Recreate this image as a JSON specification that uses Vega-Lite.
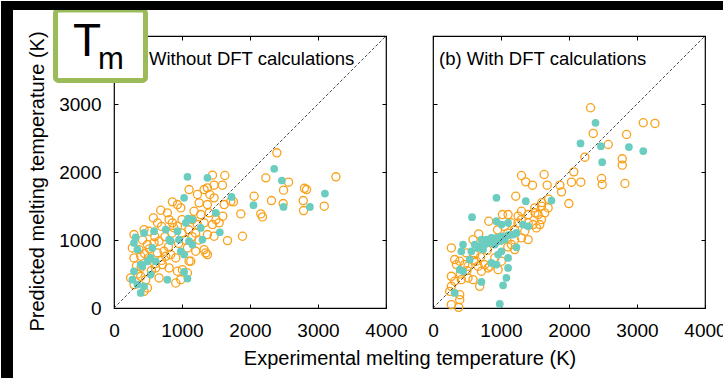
{
  "$schema": "https://vega.github.io/schema/vega-lite/v6.json",
  "background": "white",
  "padding": 0,
  "bounds": "flush",
  "spacing": 47,
  "config": {
    "font": "Liberation Sans",
    "view": {"stroke": "black", "strokeWidth": 1.2},
    "axis": {"grid": false, "domain": false, "tickSize": -4, "tickColor": "black", "tickWidth": 1, "format": "d", "labelFont": "Liberation Sans", "labelFontSize": 19, "labelColor": "black", "labelPadding": 17, "labelFlush": false, "labelOverlap": false, "titleFont": "Liberation Sans", "titleFontSize": 20, "titleFontWeight": "normal", "titleColor": "black"}
  },
  "datasets": {
    "a": [
      {"exp": 2395, "pred": 2282, "set": "training"}, {"exp": 3264, "pred": 1929, "set": "training"}, {"exp": 2233, "pred": 1914, "set": "training"}, {"exp": 2567, "pred": 1850, "set": "training"}, {"exp": 2493, "pred": 1733, "set": "training"}, {"exp": 2061, "pred": 1644, "set": "training"}, {"exp": 2316, "pred": 1580, "set": "training"}, {"exp": 2488, "pred": 1536, "set": "training"}, {"exp": 2832, "pred": 1742, "set": "training"}, {"exp": 2800, "pred": 1760, "set": "training"}, {"exp": 2783, "pred": 1580, "set": "training"}, {"exp": 2788, "pred": 1433, "set": "training"}, {"exp": 3092, "pred": 1497, "set": "training"}, {"exp": 1865, "pred": 1384, "set": "training"}, {"exp": 2159, "pred": 1384, "set": "training"}, {"exp": 2184, "pred": 1340, "set": "training"}, {"exp": 1889, "pred": 1055, "set": "training"}, {"exp": 1669, "pred": 991, "set": "training"}, {"exp": 1757, "pred": 1561, "set": "training"}, {"exp": 1448, "pred": 1954, "set": "training"}, {"exp": 1630, "pred": 1948, "set": "training"}, {"exp": 1595, "pred": 1806, "set": "training"}, {"exp": 1374, "pred": 1767, "set": "training"}, {"exp": 1472, "pred": 1806, "set": "training"}, {"exp": 1104, "pred": 1742, "set": "training"}, {"exp": 1227, "pred": 1669, "set": "training"}, {"exp": 1325, "pred": 1742, "set": "training"}, {"exp": 1409, "pred": 1669, "set": "training"}, {"exp": 1472, "pred": 1620, "set": "training"}, {"exp": 1252, "pred": 1546, "set": "training"}, {"exp": 1374, "pred": 1521, "set": "training"}, {"exp": 1620, "pred": 1521, "set": "training"}, {"exp": 1718, "pred": 1570, "set": "training"}, {"exp": 859, "pred": 1561, "set": "training"}, {"exp": 933, "pred": 1521, "set": "training"}, {"exp": 982, "pred": 1472, "set": "training"}, {"exp": 687, "pred": 1438, "set": "training"}, {"exp": 785, "pred": 1399, "set": "training"}, {"exp": 579, "pred": 1325, "set": "training"}, {"exp": 810, "pred": 1300, "set": "training"}, {"exp": 859, "pred": 1252, "set": "training"}, {"exp": 933, "pred": 1202, "set": "training"}, {"exp": 1178, "pred": 1423, "set": "training"}, {"exp": 1276, "pred": 1374, "set": "training"}, {"exp": 1399, "pred": 1399, "set": "training"}, {"exp": 1227, "pred": 1227, "set": "training"}, {"exp": 1325, "pred": 1252, "set": "training"}, {"exp": 1448, "pred": 1227, "set": "training"}, {"exp": 1546, "pred": 1252, "set": "training"}, {"exp": 1374, "pred": 1080, "set": "training"}, {"exp": 1472, "pred": 1055, "set": "training"}, {"exp": 1325, "pred": 859, "set": "training"}, {"exp": 1350, "pred": 810, "set": "training"}, {"exp": 1374, "pred": 785, "set": "training"}, {"exp": 294, "pred": 1080, "set": "training"}, {"exp": 442, "pred": 1153, "set": "training"}, {"exp": 515, "pred": 1129, "set": "training"}, {"exp": 270, "pred": 883, "set": "training"}, {"exp": 368, "pred": 859, "set": "training"}, {"exp": 491, "pred": 933, "set": "training"}, {"exp": 589, "pred": 957, "set": "training"}, {"exp": 663, "pred": 982, "set": "training"}, {"exp": 638, "pred": 810, "set": "training"}, {"exp": 736, "pred": 834, "set": "training"}, {"exp": 834, "pred": 785, "set": "training"}, {"exp": 908, "pred": 736, "set": "training"}, {"exp": 1080, "pred": 883, "set": "training"}, {"exp": 1202, "pred": 834, "set": "training"}, {"exp": 1129, "pred": 687, "set": "training"}, {"exp": 294, "pred": 736, "set": "training"}, {"exp": 393, "pred": 761, "set": "training"}, {"exp": 515, "pred": 736, "set": "training"}, {"exp": 613, "pred": 589, "set": "training"}, {"exp": 712, "pred": 638, "set": "training"}, {"exp": 810, "pred": 589, "set": "training"}, {"exp": 933, "pred": 540, "set": "training"}, {"exp": 1006, "pred": 564, "set": "training"}, {"exp": 1104, "pred": 687, "set": "training"}, {"exp": 393, "pred": 466, "set": "training"}, {"exp": 466, "pred": 417, "set": "training"}, {"exp": 663, "pred": 442, "set": "training"}, {"exp": 908, "pred": 368, "set": "training"}, {"exp": 982, "pred": 417, "set": "training"}, {"exp": 491, "pred": 295, "set": "training"}, {"exp": 442, "pred": 245, "set": "training"}, {"exp": 294, "pred": 344, "set": "training"}, {"exp": 245, "pred": 442, "set": "training"}, {"exp": 1080, "pred": 515, "set": "training"}, {"exp": 1000, "pred": 1100, "set": "training"}, {"exp": 1100, "pred": 1150, "set": "training"}, {"exp": 1050, "pred": 1000, "set": "training"}, {"exp": 1150, "pred": 1050, "set": "training"}, {"exp": 950, "pred": 950, "set": "training"}, {"exp": 700, "pred": 700, "set": "training"}, {"exp": 600, "pred": 650, "set": "training"}, {"exp": 750, "pred": 1050, "set": "training"}, {"exp": 850, "pred": 1100, "set": "training"}, {"exp": 1200, "pred": 1100, "set": "training"}, {"exp": 1250, "pred": 1000, "set": "training"}, {"exp": 400, "pred": 600, "set": "training"}, {"exp": 350, "pred": 500, "set": "training"}, {"exp": 550, "pred": 550, "set": "training"}, {"exp": 450, "pred": 800, "set": "training"}, {"exp": 800, "pred": 900, "set": "training"}, {"exp": 1500, "pred": 1300, "set": "training"}, {"exp": 1600, "pred": 1350, "set": "training"}, {"exp": 1150, "pred": 1300, "set": "training"}, {"exp": 1000, "pred": 1300, "set": "training"}, {"exp": 700, "pred": 1200, "set": "training"}, {"exp": 600, "pred": 1050, "set": "training"}, {"exp": 330, "pred": 620, "set": "training"}, {"exp": 520, "pred": 870, "set": "training"}, {"exp": 760, "pred": 760, "set": "training"}, {"exp": 880, "pred": 1180, "set": "training"}, {"exp": 420, "pred": 1000, "set": "training"}, {"exp": 640, "pred": 1250, "set": "training"},
      {"exp": 1080, "pred": 1929, "set": "test"}, {"exp": 1374, "pred": 1914, "set": "test"}, {"exp": 2356, "pred": 2047, "set": "test"}, {"exp": 2469, "pred": 1875, "set": "test"}, {"exp": 3102, "pred": 1683, "set": "test"}, {"exp": 2881, "pred": 1487, "set": "test"}, {"exp": 2493, "pred": 1487, "set": "test"}, {"exp": 2051, "pred": 1512, "set": "test"}, {"exp": 1728, "pred": 1634, "set": "test"}, {"exp": 1031, "pred": 1620, "set": "test"}, {"exp": 1556, "pred": 1114, "set": "test"}, {"exp": 1497, "pred": 1399, "set": "test"}, {"exp": 1090, "pred": 1315, "set": "test"}, {"exp": 1153, "pred": 1300, "set": "test"}, {"exp": 1055, "pred": 1252, "set": "test"}, {"exp": 1276, "pred": 1178, "set": "test"}, {"exp": 1300, "pred": 1006, "set": "test"}, {"exp": 1153, "pred": 933, "set": "test"}, {"exp": 1104, "pred": 982, "set": "test"}, {"exp": 933, "pred": 1129, "set": "test"}, {"exp": 957, "pred": 1006, "set": "test"}, {"exp": 761, "pred": 1153, "set": "test"}, {"exp": 589, "pred": 1129, "set": "test"}, {"exp": 442, "pred": 1104, "set": "test"}, {"exp": 319, "pred": 1040, "set": "test"}, {"exp": 294, "pred": 957, "set": "test"}, {"exp": 344, "pred": 859, "set": "test"}, {"exp": 810, "pred": 1006, "set": "test"}, {"exp": 834, "pred": 982, "set": "test"}, {"exp": 564, "pred": 883, "set": "test"}, {"exp": 540, "pred": 736, "set": "test"}, {"exp": 613, "pred": 687, "set": "test"}, {"exp": 393, "pred": 638, "set": "test"}, {"exp": 417, "pred": 614, "set": "test"}, {"exp": 491, "pred": 687, "set": "test"}, {"exp": 982, "pred": 834, "set": "test"}, {"exp": 1031, "pred": 785, "set": "test"}, {"exp": 785, "pred": 417, "set": "test"}, {"exp": 1031, "pred": 530, "set": "test"}, {"exp": 1080, "pred": 432, "set": "test"}, {"exp": 294, "pred": 540, "set": "test"}, {"exp": 270, "pred": 417, "set": "test"}, {"exp": 344, "pred": 344, "set": "test"}, {"exp": 442, "pred": 319, "set": "test"}, {"exp": 393, "pred": 221, "set": "test"}, {"exp": 540, "pred": 491, "set": "test"}
    ],
    "b": [
      {"exp": 2317, "pred": 2945, "set": "training"}, {"exp": 3092, "pred": 2724, "set": "training"}, {"exp": 3264, "pred": 2714, "set": "training"}, {"exp": 2356, "pred": 2567, "set": "training"}, {"exp": 2847, "pred": 2552, "set": "training"}, {"exp": 2577, "pred": 2405, "set": "training"}, {"exp": 2233, "pred": 2218, "set": "training"}, {"exp": 2783, "pred": 2194, "set": "training"}, {"exp": 2783, "pred": 2101, "set": "training"}, {"exp": 2822, "pred": 1831, "set": "training"}, {"exp": 2479, "pred": 1904, "set": "training"}, {"exp": 2488, "pred": 1816, "set": "training"}, {"exp": 2071, "pred": 2002, "set": "training"}, {"exp": 2037, "pred": 1850, "set": "training"}, {"exp": 2174, "pred": 1850, "set": "training"}, {"exp": 1890, "pred": 1708, "set": "training"}, {"exp": 1998, "pred": 1536, "set": "training"}, {"exp": 1865, "pred": 1806, "set": "training"}, {"exp": 1634, "pred": 1963, "set": "training"}, {"exp": 1679, "pred": 1806, "set": "training"}, {"exp": 1301, "pred": 1948, "set": "training"}, {"exp": 1364, "pred": 1855, "set": "training"}, {"exp": 1463, "pred": 1806, "set": "training"}, {"exp": 1217, "pred": 1644, "set": "training"}, {"exp": 1104, "pred": 1374, "set": "training"}, {"exp": 1021, "pred": 1374, "set": "training"}, {"exp": 1399, "pred": 1374, "set": "training"}, {"exp": 1497, "pred": 1472, "set": "training"}, {"exp": 1595, "pred": 1497, "set": "training"}, {"exp": 1693, "pred": 1472, "set": "training"}, {"exp": 1546, "pred": 1374, "set": "training"}, {"exp": 1644, "pred": 1399, "set": "training"}, {"exp": 1399, "pred": 1006, "set": "training"}, {"exp": 1570, "pred": 1227, "set": "training"}, {"exp": 1521, "pred": 1178, "set": "training"}, {"exp": 1252, "pred": 1350, "set": "training"}, {"exp": 1301, "pred": 1423, "set": "training"}, {"exp": 820, "pred": 1276, "set": "training"}, {"exp": 672, "pred": 1090, "set": "training"}, {"exp": 589, "pred": 1006, "set": "training"}, {"exp": 270, "pred": 883, "set": "training"}, {"exp": 319, "pred": 712, "set": "training"}, {"exp": 393, "pred": 687, "set": "training"}, {"exp": 344, "pred": 638, "set": "training"}, {"exp": 466, "pred": 638, "set": "training"}, {"exp": 515, "pred": 614, "set": "training"}, {"exp": 638, "pred": 687, "set": "training"}, {"exp": 663, "pred": 614, "set": "training"}, {"exp": 761, "pred": 638, "set": "training"}, {"exp": 834, "pred": 614, "set": "training"}, {"exp": 908, "pred": 736, "set": "training"}, {"exp": 1006, "pred": 687, "set": "training"}, {"exp": 1202, "pred": 859, "set": "training"}, {"exp": 1153, "pred": 933, "set": "training"}, {"exp": 1301, "pred": 1031, "set": "training"}, {"exp": 1350, "pred": 1129, "set": "training"}, {"exp": 1472, "pred": 1227, "set": "training"}, {"exp": 1595, "pred": 1300, "set": "training"}, {"exp": 270, "pred": 466, "set": "training"}, {"exp": 319, "pred": 393, "set": "training"}, {"exp": 417, "pred": 417, "set": "training"}, {"exp": 515, "pred": 442, "set": "training"}, {"exp": 589, "pred": 417, "set": "training"}, {"exp": 687, "pred": 319, "set": "training"}, {"exp": 712, "pred": 540, "set": "training"}, {"exp": 810, "pred": 589, "set": "training"}, {"exp": 270, "pred": 319, "set": "training"}, {"exp": 245, "pred": 245, "set": "training"}, {"exp": 393, "pred": 196, "set": "training"}, {"exp": 270, "pred": 49, "set": "training"}, {"exp": 378, "pred": 10, "set": "training"}, {"exp": 393, "pred": 123, "set": "training"}, {"exp": 957, "pred": 564, "set": "training"}, {"exp": 613, "pred": 785, "set": "training"}, {"exp": 491, "pred": 810, "set": "training"}, {"exp": 1000, "pred": 1000, "set": "training"}, {"exp": 1100, "pred": 1100, "set": "training"}, {"exp": 1200, "pred": 1150, "set": "training"}, {"exp": 1250, "pred": 1250, "set": "training"}, {"exp": 900, "pred": 950, "set": "training"}, {"exp": 800, "pred": 850, "set": "training"}, {"exp": 700, "pred": 750, "set": "training"}, {"exp": 1050, "pred": 1200, "set": "training"}, {"exp": 1150, "pred": 1250, "set": "training"}, {"exp": 950, "pred": 1150, "set": "training"}, {"exp": 600, "pred": 700, "set": "training"}, {"exp": 500, "pred": 550, "set": "training"}, {"exp": 400, "pred": 500, "set": "training"}, {"exp": 1300, "pred": 1300, "set": "training"}, {"exp": 1400, "pred": 1250, "set": "training"}, {"exp": 1500, "pred": 1400, "set": "training"}, {"exp": 1700, "pred": 1600, "set": "training"}, {"exp": 1600, "pred": 1550, "set": "training"}, {"exp": 1200, "pred": 1000, "set": "training"}, {"exp": 1100, "pred": 900, "set": "training"},
      {"exp": 2390, "pred": 2724, "set": "test"}, {"exp": 2169, "pred": 2420, "set": "test"}, {"exp": 2469, "pred": 2380, "set": "test"}, {"exp": 2881, "pred": 2366, "set": "test"}, {"exp": 3092, "pred": 2307, "set": "test"}, {"exp": 2488, "pred": 2145, "set": "test"}, {"exp": 1742, "pred": 1580, "set": "test"}, {"exp": 1364, "pred": 1570, "set": "test"}, {"exp": 933, "pred": 1620, "set": "test"}, {"exp": 574, "pred": 1335, "set": "test"}, {"exp": 933, "pred": 1276, "set": "test"}, {"exp": 1006, "pred": 1227, "set": "test"}, {"exp": 1104, "pred": 1252, "set": "test"}, {"exp": 1325, "pred": 1227, "set": "test"}, {"exp": 1399, "pred": 1202, "set": "test"}, {"exp": 1227, "pred": 1104, "set": "test"}, {"exp": 1178, "pred": 1080, "set": "test"}, {"exp": 712, "pred": 1006, "set": "test"}, {"exp": 785, "pred": 1006, "set": "test"}, {"exp": 859, "pred": 1031, "set": "test"}, {"exp": 933, "pred": 1031, "set": "test"}, {"exp": 1006, "pred": 1055, "set": "test"}, {"exp": 1104, "pred": 1070, "set": "test"}, {"exp": 614, "pred": 933, "set": "test"}, {"exp": 687, "pred": 908, "set": "test"}, {"exp": 761, "pred": 933, "set": "test"}, {"exp": 834, "pred": 957, "set": "test"}, {"exp": 908, "pred": 933, "set": "test"}, {"exp": 982, "pred": 982, "set": "test"}, {"exp": 1055, "pred": 1006, "set": "test"}, {"exp": 442, "pred": 933, "set": "test"}, {"exp": 564, "pred": 834, "set": "test"}, {"exp": 663, "pred": 883, "set": "test"}, {"exp": 736, "pred": 859, "set": "test"}, {"exp": 417, "pred": 834, "set": "test"}, {"exp": 1227, "pred": 893, "set": "test"}, {"exp": 1104, "pred": 736, "set": "test"}, {"exp": 957, "pred": 785, "set": "test"}, {"exp": 1006, "pred": 834, "set": "test"}, {"exp": 859, "pred": 663, "set": "test"}, {"exp": 933, "pred": 638, "set": "test"}, {"exp": 1104, "pred": 589, "set": "test"}, {"exp": 393, "pred": 564, "set": "test"}, {"exp": 442, "pred": 540, "set": "test"}, {"exp": 712, "pred": 383, "set": "test"}, {"exp": 1080, "pred": 442, "set": "test"}, {"exp": 1031, "pred": 334, "set": "test"}, {"exp": 319, "pred": 221, "set": "test"}, {"exp": 982, "pred": 59, "set": "test"}, {"exp": 540, "pred": 712, "set": "test"}
    ]
  },
  "hconcat": [
    {
      "width": 272,
      "height": 272,
      "data": {"name": "a"},
      "resolve": {"axis": {"x": "independent", "y": "independent"}},
      "layer": [
        {
          "transform": [{"filter": "datum.set === 'training'"}],
          "mark": {"type": "point", "shape": "circle", "filled": false, "color": "#F9A11B", "strokeWidth": 1.3, "size": 66, "opacity": 1, "clip": false},
          "encoding": {
            "x": {"field": "exp", "type": "quantitative", "scale": {"domain": [0, 4000], "nice": false}, "axis": {"orient": "bottom", "values": [0, 1000, 2000, 3000, 4000], "title": "Experimental melting temperature (K)", "titleX": 295.5, "titleY": 56, "titleAlign": "center", "titleBaseline": "alphabetic", "titleAnchor": null}},
            "y": {"field": "pred", "type": "quantitative", "scale": {"domain": [0, 4000], "nice": false}, "axis": {"orient": "left", "values": [0, 1000, 2000, 3000], "title": "Predicted melting temperature (K)", "titleX": -77, "titleY": 145, "titleAngle": -90, "titleAlign": "center", "titleBaseline": "middle"}}
          }
        },
        {
          "transform": [{"filter": "datum.set === 'test'"}],
          "mark": {"type": "point", "shape": "circle", "filled": true, "color": "#6BCDBF", "size": 60, "opacity": 1, "clip": false},
          "encoding": {
            "x": {"field": "exp", "type": "quantitative", "axis": {"orient": "top", "values": [0, 1000, 2000, 3000, 4000], "labels": false, "title": null}},
            "y": {"field": "pred", "type": "quantitative", "axis": {"orient": "right", "values": [0, 1000, 2000, 3000, 4000], "labels": false, "title": null}}
          }
        },
        {
          "data": {"values": [{}]},
          "mark": {"type": "rule", "color": "#333333", "strokeWidth": 0.9, "strokeDash": [3, 2], "clip": false},
          "encoding": {
            "x": {"datum": 0, "type": "quantitative", "axis": null}, "y": {"datum": 0, "type": "quantitative", "axis": null},
            "x2": {"datum": 4000}, "y2": {"datum": 4000}
          }
        },
        {
          "data": {"values": [{}]},
          "mark": {"type": "text", "text": "Without DFT calculations", "align": "left", "baseline": "alphabetic", "fontSize": 18.5, "color": "black", "clip": false},
          "encoding": {"x": {"datum": 515, "type": "quantitative", "axis": null}, "y": {"datum": 3580, "type": "quantitative", "axis": null}}
        },
        {
          "data": {"values": [{}]},
          "mark": {"type": "rect", "fill": "white", "stroke": "#9BBB59", "strokeWidth": 5, "cornerRadius": 3, "clip": false},
          "encoding": {"x": {"datum": -860, "type": "quantitative", "axis": null}, "x2": {"datum": 463}, "y": {"datum": 4382, "type": "quantitative", "axis": null}, "y2": {"datum": 3346}}
        },
        {
          "data": {"values": [{}]},
          "mark": {"type": "text", "text": "T", "align": "center", "baseline": "alphabetic", "fontSize": 46, "color": "black", "clip": false},
          "encoding": {"x": {"datum": -397, "type": "quantitative", "axis": null}, "y": {"datum": 3706, "type": "quantitative", "axis": null}}
        },
        {
          "data": {"values": [{}]},
          "mark": {"type": "text", "text": "m", "align": "center", "baseline": "alphabetic", "fontSize": 31, "color": "black", "clip": false},
          "encoding": {"x": {"datum": -44, "type": "quantitative", "axis": null}, "y": {"datum": 3515, "type": "quantitative", "axis": null}}
        },
        {
          "data": {"values": [{}]},
          "mark": {"type": "rect", "fill": "black", "clip": false},
          "encoding": {"x": {"datum": -1661.8, "type": "quantitative", "axis": null}, "x2": {"datum": -1485.3}, "y": {"datum": 4514.7, "type": "quantitative", "axis": null}, "y2": {"datum": -1044.1}}
        },
        {
          "data": {"values": [{}]},
          "mark": {"type": "rect", "fill": "black", "clip": false},
          "encoding": {"x": {"datum": -1661.8, "type": "quantitative", "axis": null}, "x2": {"datum": 8970.6}, "y": {"datum": 4514.7, "type": "quantitative", "axis": null}, "y2": {"datum": 4382.4}}
        }
      ]
    },
    {
      "width": 272,
      "height": 272,
      "data": {"name": "b"},
      "resolve": {"axis": {"x": "independent", "y": "independent"}},
      "layer": [
        {
          "transform": [{"filter": "datum.set === 'training'"}],
          "mark": {"type": "point", "shape": "circle", "filled": false, "color": "#F9A11B", "strokeWidth": 1.3, "size": 66, "opacity": 1, "clip": false},
          "encoding": {
            "x": {"field": "exp", "type": "quantitative", "scale": {"domain": [0, 4000], "nice": false}, "axis": {"orient": "bottom", "values": [0, 1000, 2000, 3000, 4000], "title": null}},
            "y": {"field": "pred", "type": "quantitative", "scale": {"domain": [0, 4000], "nice": false}, "axis": {"orient": "left", "values": [0, 1000, 2000, 3000, 4000], "labels": false, "title": null}}
          }
        },
        {
          "transform": [{"filter": "datum.set === 'test'"}],
          "mark": {"type": "point", "shape": "circle", "filled": true, "color": "#6BCDBF", "size": 60, "opacity": 1, "clip": false},
          "encoding": {
            "x": {"field": "exp", "type": "quantitative", "axis": {"orient": "top", "values": [0, 1000, 2000, 3000, 4000], "labels": false, "title": null}},
            "y": {"field": "pred", "type": "quantitative", "axis": {"orient": "right", "values": [0, 1000, 2000, 3000, 4000], "labels": false, "title": null}}
          }
        },
        {
          "data": {"values": [{}]},
          "mark": {"type": "rule", "color": "#333333", "strokeWidth": 0.9, "strokeDash": [3, 2], "clip": false},
          "encoding": {
            "x": {"datum": 0, "type": "quantitative", "axis": null}, "y": {"datum": 0, "type": "quantitative", "axis": null},
            "x2": {"datum": 4000}, "y2": {"datum": 4000}
          }
        },
        {
          "data": {"values": [{}]},
          "mark": {"type": "text", "text": "(b) With DFT calculations", "align": "left", "baseline": "alphabetic", "fontSize": 18.5, "color": "black", "clip": false},
          "encoding": {"x": {"datum": 88, "type": "quantitative", "axis": null}, "y": {"datum": 3580, "type": "quantitative", "axis": null}}
        }
      ]
    }
  ]
}
